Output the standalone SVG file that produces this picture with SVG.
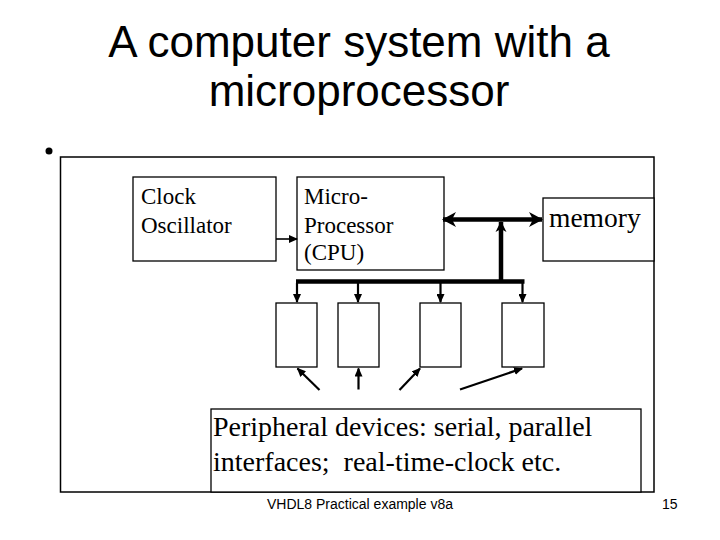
<svg xmlns="http://www.w3.org/2000/svg" width="720" height="540" viewBox="0 0 720 540">
  <defs>
    <style>
      .box { fill: #fff; stroke: #000; stroke-width: 1.3; }
      .t { font-family: "Liberation Serif", "Times New Roman", serif; fill: #000; }
      .s { font-family: "Liberation Sans", Arial, sans-serif; fill: #000; }
      .thick { stroke: #000; stroke-width: 4.5; fill: none; }
      .thin { stroke: #000; stroke-width: 2.2; fill: none; }
      .hair { stroke: #000; stroke-width: 1.6; fill: none; }
    </style>
    <marker id="big" viewBox="-1 -8 16 16" refX="13" refY="0" markerWidth="16" markerHeight="16" markerUnits="userSpaceOnUse" orient="auto-start-reverse">
      <path d="M0,-7.5 L14,0 L0,7.5 L4,0 z" fill="#000"/>
    </marker>
    <marker id="mid" viewBox="-1 -6 13 12" refX="10" refY="0" markerWidth="13" markerHeight="12" markerUnits="userSpaceOnUse" orient="auto">
      <path d="M0,-5.5 L11,0 L0,5.5 L3,0 z" fill="#000"/>
    </marker>
    <marker id="sm" viewBox="0 -4 9 8" refX="8" refY="0" markerWidth="9" markerHeight="8" markerUnits="userSpaceOnUse" orient="auto">
      <path d="M0,-4 L9,0 L0,4 z" fill="#000"/>
    </marker>
  </defs>
  <rect width="720" height="540" fill="#fff"/>

  <g id="title">
    <text class="s" x="359" y="57" font-size="44" text-anchor="middle">A computer system with a</text>
    <text class="s" x="359" y="106" font-size="44" text-anchor="middle">microprocessor</text>
  </g>
  <circle cx="49" cy="151" r="3.5" fill="#000"/>
  <rect id="frame" x="60.5" y="157" width="593.5" height="335" fill="none" stroke="#000" stroke-width="1.5"/>

  <g id="clock">
    <rect class="box" x="133" y="177" width="143" height="84"/>
    <text class="t" x="141" y="204" font-size="23">Clock</text>
    <text class="t" x="141" y="232.5" font-size="23">Oscillator</text>
  </g>
  <g id="cpu">
    <rect class="box" x="297" y="177" width="147" height="93"/>
    <text class="t" x="304" y="204" font-size="23">Micro-</text>
    <text class="t" x="304" y="232.5" font-size="23">Processor</text>
    <text class="t" x="304" y="260" font-size="23">(CPU)</text>
  </g>
  <g id="memory">
    <rect class="box" x="543" y="198" width="111" height="63"/>
    <text class="t" x="549" y="226.5" font-size="27.5">memory</text>
  </g>
  <g id="p1"><rect class="box" x="276" y="303" width="41" height="64"/></g>
  <g id="p2"><rect class="box" x="338" y="303" width="41" height="64"/></g>
  <g id="p3"><rect class="box" x="420" y="303" width="41" height="64"/></g>
  <g id="p4"><rect class="box" x="502" y="303" width="42" height="64"/></g>
  <g id="peripheral">
    <rect class="box" x="211" y="409" width="430" height="83"/>
    <text class="t" x="213" y="436" font-size="28">Peripheral devices: serial, parallel</text>
    <text class="t" x="213" y="471" font-size="28" xml:space="preserve">interfaces;  real-time-clock etc.</text>
  </g>

  <g id="connectors">
    <line class="hair" x1="276" y1="239" x2="297" y2="239" marker-end="url(#sm)"/>
    <line class="thick" x1="443" y1="219.5" x2="542" y2="219.5" marker-start="url(#big)" marker-end="url(#big)"/>
    <line class="thick" x1="501" y1="283" x2="501" y2="222" marker-end="url(#mid)"/>
    <line class="thick" x1="296" y1="281.5" x2="524.5" y2="281.5"/>
    <line class="thin" x1="297" y1="283" x2="297" y2="302" marker-end="url(#sm)"/>
    <line class="thin" x1="358" y1="283" x2="358" y2="302" marker-end="url(#sm)"/>
    <line class="thin" x1="440.5" y1="283" x2="440.5" y2="302" marker-end="url(#sm)"/>
    <line class="thin" x1="522.5" y1="283" x2="522.5" y2="302" marker-end="url(#sm)"/>
    <line class="thin" x1="319.5" y1="390" x2="297.5" y2="368.5" marker-end="url(#sm)"/>
    <line class="thin" x1="358.5" y1="389.5" x2="358.5" y2="368.5" marker-end="url(#sm)"/>
    <line class="thin" x1="399.5" y1="390" x2="420" y2="368.5" marker-end="url(#sm)"/>
    <line class="thin" x1="460" y1="389.5" x2="522" y2="368.5" marker-end="url(#sm)"/>
  </g>

  <g id="footer">
    <text class="s" x="267" y="509" font-size="14">VHDL8 Practical example v8a</text>
    <text class="s" x="662" y="509" font-size="14">15</text>
  </g>
</svg>
